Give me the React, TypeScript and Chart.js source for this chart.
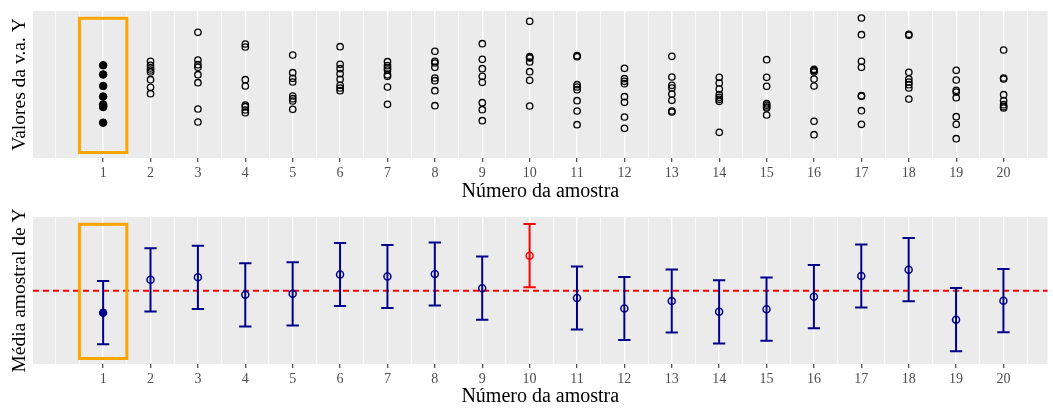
import React, { useEffect, useRef } from 'react';
import { Chart, registerables } from 'chart.js';

Chart.register(...registerables);

// ---------------- data ----------------
const sampleNumbers = [1, 2, 3, 4, 5, 6, 7, 8, 9, 10, 11, 12, 13, 14, 15, 16, 17, 18, 19, 20];
const tickLabels = sampleNumbers.map(String);

const sample01 = [92.7, 83.5, 72.0, 61.5, 53.5, 52.0, 51.0, 35.3];
const sample02 = [96.7, 92.7, 90.0, 88.0, 86.0, 78.3, 70.7, 64.3];
const sample03 = [125.7, 98.0, 93.3, 90.7, 83.3, 75.3, 49.0, 36.0];
const sample04 = [114.0, 111.0, 78.3, 72.0, 53.0, 51.3, 48.0, 45.3];
const sample05 = [103.0, 85.3, 79.7, 76.0, 62.0, 59.3, 57.0, 48.7];
const sample06 = [111.3, 93.7, 89.3, 84.3, 78.7, 72.7, 70.0, 67.3];
const sample07 = [96.3, 92.3, 90.0, 88.0, 83.3, 81.7, 71.0, 53.7];
const sample08 = [106.7, 96.7, 95.0, 90.7, 80.0, 77.3, 67.3, 52.3];
const sample09 = [114.3, 98.7, 89.3, 81.7, 75.7, 55.3, 48.3, 37.3];
const sample10 = [136.7, 101.3, 100.5, 100.0, 96.0, 86.3, 77.7, 52.0];
const sample11 = [102.3, 101.3, 73.3, 71.0, 68.3, 57.3, 47.0, 33.3];
const sample12 = [89.7, 79.3, 76.7, 74.3, 61.3, 55.7, 41.0, 29.7];
const sample13 = [101.7, 81.0, 72.7, 70.0, 64.0, 57.7, 47.0, 46.0];
const sample14 = [80.7, 75.0, 69.0, 63.3, 60.7, 58.7, 56.7, 25.7];
const sample15 = [98.3, 80.7, 71.7, 54.3, 52.7, 51.0, 50.0, 43.0];
const sample16 = [88.7, 87.7, 87.3, 86.0, 79.0, 72.0, 36.7, 23.3];
const sample17 = [140.0, 123.3, 96.7, 90.7, 62.3, 61.7, 47.3, 33.7];
const sample18 = [123.7, 122.7, 85.7, 79.0, 76.0, 73.3, 70.0, 59.0];
const sample19 = [87.7, 78.0, 67.7, 66.0, 60.3, 41.3, 33.7, 19.3];
const sample20 = [108.0, 80.0, 79.0, 63.3, 57.3, 53.3, 51.3, 50.0];

const sampleValues = [
  sample01, sample02, sample03, sample04, sample05, sample06, sample07, sample08, sample09, sample10,
  sample11, sample12, sample13, sample14, sample15, sample16, sample17, sample18, sample19, sample20,
];

const sampleMeans = [51.3, 84.2, 86.7, 69.2, 70.2, 89.5, 87.5, 90.0, 75.8, 108.3, 66.0, 55.5, 63.0, 52.2, 54.8, 67.3, 88.0, 94.3, 44.3, 63.3];
const marginOfError = [31.6, 31.6, 31.6, 31.6, 31.6, 31.6, 31.6, 31.6, 31.6, 31.6, 31.6, 31.6, 31.6, 31.6, 31.6, 31.6, 31.6, 31.6, 31.6, 31.6];
const trueMean = 73.3;

const highlightedSample = 1;
const missedSample = 10;

const xRange = [-0.48, 20.93];
const yRange = [0, 147];
const gridBreaks = Array.from({ length: 42 }, (_, i) => i * 0.5);
const highlightBox = { xMin: 0.5, xMax: 1.5, yMin: 5.5, yMax: 139.7 };

// ---------------- styles ----------------
const SERIF = "'Liberation Serif', 'DejaVu Serif', serif";
const PANEL_BG = '#EBEBEB';
const NAVY = '#00008B';
const RED = '#FF0000';
const ORANGE = '#FFA500';

const isLabelled = (v: number) => Number.isInteger(v) && v >= 1 && v <= 20;

function xScale(axisHeight: number, titlePadBottom: number) {
  return {
    type: 'linear',
    min: xRange[0],
    max: xRange[1],
    afterBuildTicks: (scale: any) => {
      scale.ticks = gridBreaks.map((v) => ({ value: v }));
    },
    afterFit: (scale: any) => {
      scale.height = axisHeight;
    },
    border: { display: false },
    grid: {
      color: '#FFFFFF',
      lineWidth: (ctx: any) => (ctx.tick && isLabelled(ctx.tick.value) ? 1.4 : 0.7),
      drawTicks: true,
      tickLength: 4,
      tickWidth: 1.1,
      tickColor: (ctx: any) => (ctx.tick && isLabelled(ctx.tick.value) ? '#333333' : 'rgba(0,0,0,0)'),
    },
    ticks: {
      autoSkip: false,
      maxRotation: 0,
      minRotation: 0,
      padding: 3,
      color: '#4D4D4D',
      font: { family: SERIF, size: 14 },
      callback: (v: any) => (isLabelled(Number(v)) ? tickLabels[Number(v) - 1] : ''),
    },
    title: {
      display: true,
      text: 'Número da amostra',
      color: '#000000',
      font: { family: SERIF, size: 20 },
      padding: { top: 0, bottom: titlePadBottom },
    },
  };
}

function yScale(title: string) {
  return {
    type: 'linear',
    min: yRange[0],
    max: yRange[1],
    afterFit: (scale: any) => {
      scale.width = 33;
    },
    border: { display: false },
    grid: { display: false, drawTicks: false },
    ticks: { display: false },
    title: {
      display: true,
      text: title,
      color: '#000000',
      font: { family: SERIF, size: 19.5 },
      padding: { top: 8, bottom: 0 },
    },
  };
}

const panelBackground = {
  id: 'panelBackground',
  beforeDraw(chart: any) {
    const { ctx, chartArea } = chart;
    ctx.save();
    ctx.fillStyle = PANEL_BG;
    ctx.fillRect(chartArea.left, chartArea.top, chartArea.right - chartArea.left, chartArea.bottom - chartArea.top);
    ctx.restore();
  },
};

const highlightPlugin = {
  id: 'highlightBox',
  afterDatasetsDraw(chart: any) {
    const { ctx, scales } = chart;
    const x0 = scales.x.getPixelForValue(highlightBox.xMin);
    const x1 = scales.x.getPixelForValue(highlightBox.xMax);
    const y0 = scales.y.getPixelForValue(highlightBox.yMax);
    const y1 = scales.y.getPixelForValue(highlightBox.yMin);
    ctx.save();
    ctx.strokeStyle = ORANGE;
    ctx.lineWidth = 3;
    ctx.strokeRect(x0, y0, x1 - x0, y1 - y0);
    ctx.restore();
  },
};

const errorBarPlugin = {
  id: 'errorBars',
  beforeDatasetsDraw(chart: any) {
    const { ctx, chartArea, scales } = chart;
    const x = scales.x;
    const y = scales.y;
    ctx.save();
    // reference line at the true mean
    const yMu = y.getPixelForValue(trueMean);
    ctx.strokeStyle = RED;
    ctx.lineWidth = 2;
    ctx.setLineDash([6, 4]);
    ctx.beginPath();
    ctx.moveTo(chartArea.left, yMu);
    ctx.lineTo(chartArea.right, yMu);
    ctx.stroke();
    ctx.setLineDash([]);
    // confidence intervals
    const capHalf = 0.13;
    sampleMeans.forEach((m, i) => {
      const n = sampleNumbers[i];
      const xp = x.getPixelForValue(n);
      const xl = x.getPixelForValue(n - capHalf);
      const xr = x.getPixelForValue(n + capHalf);
      const yLo = y.getPixelForValue(m - marginOfError[i]);
      const yHi = y.getPixelForValue(m + marginOfError[i]);
      ctx.strokeStyle = n === missedSample ? RED : NAVY;
      ctx.lineWidth = 2;
      ctx.beginPath();
      ctx.moveTo(xp, yLo);
      ctx.lineTo(xp, yHi);
      ctx.moveTo(xl, yLo);
      ctx.lineTo(xr, yLo);
      ctx.moveTo(xl, yHi);
      ctx.lineTo(xr, yHi);
      ctx.stroke();
    });
    ctx.restore();
  },
};

function ChartCanvas({ build, height }: { build: () => any; height: number }) {
  const ref = useRef<HTMLCanvasElement | null>(null);
  useEffect(() => {
    if (!ref.current) return;
    const chart = new Chart(ref.current, build());
    return () => chart.destroy();
  }, []);
  return <canvas ref={ref} width={1053} height={height} style={{ display: 'block', width: 1053, height }} />;
}

function buildTop() {
  const highlighted: any[] = [];
  const others: any[] = [];
  sampleValues.forEach((vals, i) => {
    vals.forEach((v) => {
      const pt = { x: sampleNumbers[i], y: v };
      if (sampleNumbers[i] === highlightedSample) highlighted.push(pt);
      else others.push(pt);
    });
  });
  return {
    type: 'scatter',
    data: {
      datasets: [
        {
          data: others,
          pointRadius: 3.2,
          borderWidth: 1.3,
          pointBorderColor: '#000000',
          pointBackgroundColor: 'rgba(0,0,0,0)',
        },
        {
          data: highlighted,
          pointRadius: 3.8,
          borderWidth: 1,
          pointBorderColor: '#000000',
          pointBackgroundColor: '#000000',
        },
      ],
    },
    options: {
      responsive: false,
      animation: false,
      events: [],
      layout: { padding: { top: 11, right: 2, left: 0, bottom: 0 } },
      plugins: { legend: { display: false }, tooltip: { enabled: false } },
      scales: { x: xScale(49, 3), y: yScale('Valores da v.a. Y') },
    },
    plugins: [panelBackground, highlightPlugin],
  };
}

function buildBottom() {
  const pts = sampleMeans.map((m, i) => ({ x: sampleNumbers[i], y: m }));
  return {
    type: 'scatter',
    data: {
      datasets: [
        {
          data: pts,
          pointRadius: 3.5,
          borderWidth: 1.5,
          pointBorderColor: sampleNumbers.map((n) => (n === missedSample ? RED : NAVY)),
          pointBackgroundColor: sampleNumbers.map((n) => (n === highlightedSample ? NAVY : 'rgba(0,0,0,0)')),
        },
      ],
    },
    options: {
      responsive: false,
      animation: false,
      events: [],
      layout: { padding: { top: 10, right: 2, left: 0, bottom: 0 } },
      plugins: { legend: { display: false }, tooltip: { enabled: false } },
      scales: { x: xScale(50, 5), y: yScale('Média amostral de Y') },
    },
    plugins: [panelBackground, errorBarPlugin, highlightPlugin],
  };
}

export default function App() {
  return (
    <div style={{ position: 'absolute', left: 0, top: 0, width: 1053, height: 414, background: '#FFFFFF' }}>
      <ChartCanvas build={buildTop} height={207} />
      <ChartCanvas build={buildBottom} height={207} />
    </div>
  );
}
